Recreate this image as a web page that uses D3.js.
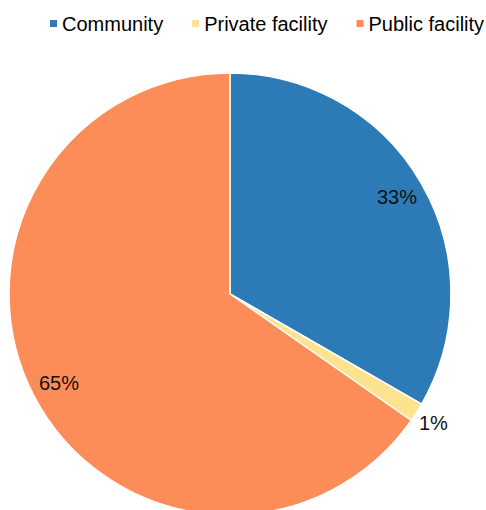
<!DOCTYPE html>
<html>
<head>
<meta charset="utf-8">
<script src="https://cdn.jsdelivr.net/npm/d3@7"></script>
<style>
  html, body { margin: 0; padding: 0; background: #fff; }
  svg { display: block; font-family: "Liberation Sans", Arial, Helvetica, sans-serif; }
</style>
</head>
<body>
<svg id="chart" width="486" height="510"></svg>
<script>
// Share of deliveries by place
const categories = ["Community", "Private facility", "Public facility"];
const shares = [33.3, 1.4, 65.3];
const colors = ["#2c7bb6", "#fde28f", "#fc8d59"];

const width = 486, height = 510;
const cx = 230, cy = 294, radius = 221;

const svg = d3.select("#chart");

const data = categories.map((c, i) => ({ category: c, value: shares[i] }));

const color = d3.scaleOrdinal().domain(categories).range(colors);

const pie = d3.pie().sort(null).value(d => d.value);
const arcs = pie(data);

const arc = d3.arc().innerRadius(0).outerRadius(radius);

const g = svg.append("g").attr("transform", `translate(${cx},${cy})`);

g.selectAll("path.slice")
  .data(arcs)
  .join("path")
  .attr("class", "slice")
  .attr("d", arc)
  .attr("fill", d => color(d.data.category))
  .attr("stroke", "#fff")
  .attr("stroke-width", 1.5)
  .attr("stroke-linejoin", "round");

// Labels sit inside large slices and just outside thin ones
const insideArc = d3.arc().innerRadius(radius * 0.873).outerRadius(radius * 0.873);
const outsideArc = d3.arc().innerRadius(radius * 1.09).outerRadius(radius * 1.09);
const fmt = v => Math.round(v) + "%";

g.selectAll("text.pct")
  .data(arcs)
  .join("text")
  .attr("class", "pct")
  .attr("transform", d => {
    const a = (d.endAngle - d.startAngle) < 0.2 ? outsideArc : insideArc;
    const [x, y] = a.centroid(d);
    return `translate(${x},${y})`;
  })
  .attr("text-anchor", "middle")
  .attr("dominant-baseline", "central")
  .attr("font-size", 20)
  .attr("fill", "#111")
  .text(d => fmt(d.data.value));

// Legend along the top
const legend = svg.append("g").attr("transform", "translate(50,0)");
let lx = 0;
categories.forEach(c => {
  const item = legend.append("g").attr("transform", `translate(${lx},0)`);
  item.append("rect")
    .attr("x", 0).attr("y", 20)
    .attr("width", 7).attr("height", 7)
    .attr("fill", color(c));
  const t = item.append("text")
    .attr("x", 12).attr("y", 30.5)
    .attr("font-size", 20)
    .attr("fill", "#000")
    .text(c);
  lx += 12 + t.node().getComputedTextLength() + 29;
});
</script>
</body>
</html>
